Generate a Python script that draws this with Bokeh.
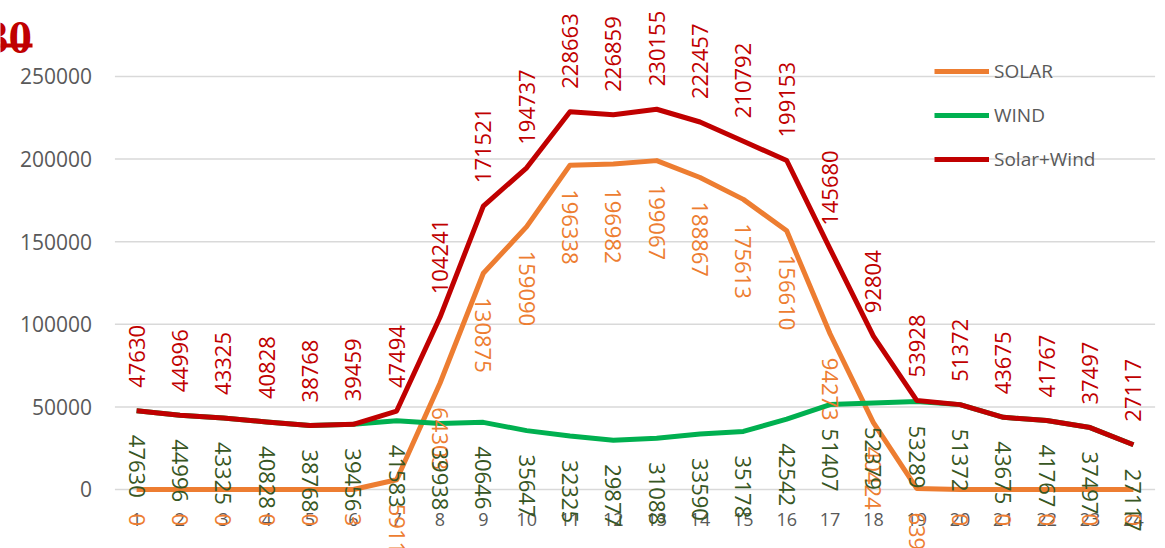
import math
from bokeh.plotting import figure
from bokeh.models import (Range1d, Legend, LegendItem, BoxAnnotation,
                          ColumnDataSource)
from bokeh.core.properties import value
from bokeh.embed import file_html
from bokeh.resources import INLINE

# ---------------- data ----------------
hours = list(range(1, 25))
hour_labels = [str(h) for h in hours]
solar = [0, 0, 0, 0, 0, 3, 5911, 64303, 130875, 159090, 196338, 196982,
         199067, 188867, 175613, 156610, 94273, 40424, 639, 0, 0, 0, 0, 0]
wind = [47630, 44996, 43325, 40828, 38768, 39456, 41583, 39938, 40646, 35647,
        32325, 29877, 31088, 33590, 35178, 42542, 51407, 52379, 53289, 51372,
        43675, 41767, 37497, 27117]
solar_wind = [47630, 44996, 43325, 40828, 38768, 39459, 47494, 104241, 171521,
              194737, 228663, 226859, 230155, 222457, 210792, 199153, 145680,
              92804, 53928, 51372, 43675, 41767, 37497, 27117]
y_ticks = [0, 50000, 100000, 150000, 200000, 250000]
y_tick_labels = [str(t) for t in y_ticks]
series_names = ["SOLAR", "WIND", "Solar+Wind"]
title_text = "30"

# ---------------- style ----------------
C_SOLAR, C_WIND, C_SUM = "#ED7D31", "#00B050", "#C00000"
C_SOLAR_LBL, C_WIND_LBL, C_SUM_LBL = "#ED7D31", "#375623", "#C00000"
GRAY = "#595959"
FONT = "Open Sans"

W, H = 1165, 548
p = figure(width=W, height=H, output_backend="svg", toolbar_location=None,
           x_range=Range1d(-2.14, 24.74), y_range=Range1d(-35713, 295990),
           x_axis_location=None, y_axis_location=None,
           min_border_left=0, min_border_right=0, min_border_top=0,
           min_border_bottom=0)
p.outline_line_color = None
p.background_fill_color = "white"
p.border_fill_color = "white"
p.xgrid.visible = False
p.ygrid.visible = False

x_lo = hours[0] - 0.5
x_hi = hours[-1] + 0.5

# horizontal gridlines across the category area
p.segment(x0=[x_lo] * len(y_ticks), x1=[x_hi] * len(y_ticks), y0=y_ticks,
          y1=y_ticks, line_color="#D9D9D9", line_width=1.5)
# y tick labels
p.text(x=[x_lo] * len(y_ticks), y=y_ticks, text=y_tick_labels,
       text_font=value(FONT), text_font_size="21px", text_color=GRAY,
       text_align="right", text_baseline="middle", x_offset=-23)

src = ColumnDataSource(dict(
    x=hours, solar=solar, wind=wind, sw=solar_wind,
    solar_t=[str(v) for v in solar], wind_t=[str(v) for v in wind],
    sw_t=[str(v) for v in solar_wind], hl=hour_labels,
    zero=[0] * len(hours)))

r_s = p.line("x", "solar", source=src, line_color=C_SOLAR, line_width=5,
             line_join="round")
r_w = p.line("x", "wind", source=src, line_color=C_WIND, line_width=5,
             line_join="round")
r_sw = p.line("x", "sw", source=src, line_color=C_SUM, line_width=5,
              line_join="round")

# x tick labels
p.text("x", "zero", text="hl", source=src, text_font=value(FONT),
       text_font_size="18px", text_color=GRAY, text_align="center",
       text_baseline="middle", y_offset=30)

# data labels
p.text("x", "solar", text="solar_t", source=src, text_font=value(FONT),
       text_font_size="22px", text_color=C_SOLAR_LBL, angle=-math.pi / 2,
       text_align="left", text_baseline="middle", y_offset=24)
p.text("x", "wind", text="wind_t", source=src, text_font=value(FONT),
       text_font_size="22px", text_color=C_WIND_LBL, angle=-math.pi / 2,
       text_align="left", text_baseline="middle", y_offset=24)
p.text("x", "sw", text="sw_t", source=src, text_font=value(FONT),
       text_font_size="22px", text_color=C_SUM_LBL, angle=math.pi / 2,
       text_align="left", text_baseline="middle", y_offset=-23)

legend = Legend(items=[LegendItem(label=series_names[0], renderers=[r_s]),
                       LegendItem(label=series_names[1], renderers=[r_w]),
                       LegendItem(label=series_names[2], renderers=[r_sw])],
                location=(934, 376), glyph_width=55, glyph_height=20,
                label_height=20, spacing=18, padding=0, margin=0,
                border_line_color=None, background_fill_alpha=0,
                label_text_font=FONT, label_text_font_size="19px",
                label_text_color=GRAY, label_standoff=5)
p.add_layout(legend)

# partially visible underlined title at the top-left corner
p.text(x=[x_lo], y=[y_ticks[-1]], text=[title_text],
       text_font=value("Liberation Serif"), text_font_style="bold",
       text_font_size="47px", text_color="#C00000", text_align="right",
       text_baseline="alphabetic", x_offset=-83, y_offset=-39)
p.add_layout(BoxAnnotation(left=0, right=32, bottom=501, top=505,
                           left_units="screen", right_units="screen",
                           bottom_units="screen", top_units="screen",
                           fill_color="#C00000", fill_alpha=1,
                           line_color=None))

open("out.html", "w").write(file_html(p, INLINE))
